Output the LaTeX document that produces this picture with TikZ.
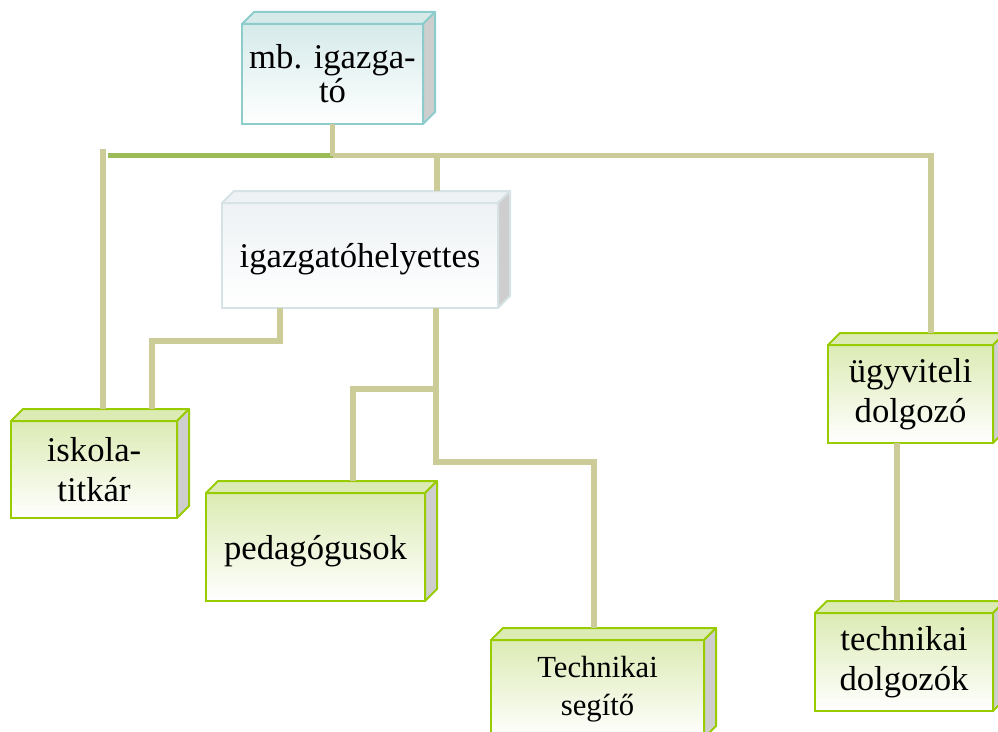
\documentclass[tikz,border=0pt]{standalone}
\usepackage{fontspec}
\setmainfont{Liberation Serif}
\usetikzlibrary{calc}
\definecolor{linkkhaki}{RGB}{204,204,153}
\definecolor{busgreen}{RGB}{155,187,89}
\definecolor{limeedge}{RGB}{153,204,0}
\definecolor{limetop}{RGB}{220,235,180}
\definecolor{tealedge}{RGB}{140,204,204}
\definecolor{tealtop}{RGB}{214,234,234}
\definecolor{mistedge}{RGB}{214,226,230}
\definecolor{misttop}{RGB}{238,242,244}
\definecolor{sideface}{RGB}{206,206,206}
\tikzset{
  unit/.style={line width=1.5pt, outer sep=0pt, inner sep=0pt, align=center,
    font=\fontsize{26}{30}\selectfont, execute at begin node={\rule{0pt}{24pt}}},
  limebox/.style={unit, draw=limeedge, top color=limetop, bottom color=white},
  tealbox/.style={unit, draw=tealedge, top color=tealtop, bottom color=white},
  mistbox/.style={unit, draw=mistedge, top color=misttop, bottom color=white},
  link/.style={draw=linkkhaki, line width=4pt, line join=miter}
}
\newcommand\cubeface[3]{%
  \filldraw[draw=#2, fill=#3, line width=1.5pt, line join=round]
    (#1.north west) -- ++(12,-12) -- ($(#1.north east)+(12,-12)$) -- (#1.north east) -- cycle;
  \filldraw[draw=#2, fill=sideface, line width=1.5pt, line join=round]
    (#1.north east) -- ++(12,-12) -- ($(#1.south east)+(12,-12)$) -- (#1.south east) -- cycle;
  \coordinate (#1-back) at ($(#1.north)+(6,-12)$);
}
\begin{document}
\begin{tikzpicture}[x=0.75pt,y=-0.75pt]
\useasboundingbox (0,0) rectangle (998,731);
\clip (0,0) rectangle (998,731);
\node[tealbox, minimum width=135.75pt, minimum height=75pt, font=\fontsize{26}{25.5}\selectfont, execute at begin node={\rule{0pt}{27pt}}] (mb) at (332.5,74) {mb. igazga-\\tó};
\cubeface{mb}{tealedge}{tealtop}
\node[mistbox, minimum width=207pt, minimum height=78.75pt] (hely) at (360,255.5) {igazgatóhelyettes};
\cubeface{hely}{mistedge}{misttop}
\node[limebox, minimum width=124.5pt, minimum height=72.75pt] (iskola) at (94,469.5) {iskola-\\titkár};
\cubeface{iskola}{limeedge}{limetop}
\node[limebox, minimum width=164.25pt, minimum height=81pt] (ped) at (315.5,547) {pedagógusok};
\cubeface{ped}{limeedge}{limetop}
\node[limebox, minimum width=159.75pt, minimum height=73.5pt, font=\fontsize{23}{28.5}\selectfont] (techseg) at (597.5,689) {Technikai\\segítő};
\cubeface{techseg}{limeedge}{limetop}
\node[limebox, minimum width=123.75pt, minimum height=73.5pt] (ugyv) at (910.5,394) {ügyviteli\\dolgozó};
\cubeface{ugyv}{limeedge}{limetop}
\node[limebox, minimum width=133.5pt, minimum height=73.5pt] (techdolg) at (904,662) {technikai\\dolgozók};
\cubeface{techdolg}{limeedge}{limetop}
\coordinate (busL) at (108,155.5);
\coordinate (busR) at (931,155.5);
\coordinate (leftTop) at (103,149);
\coordinate (helyTop) at (437,155.5);
\coordinate (kA) at (152,341);
\coordinate (kB) at (280,341);
\coordinate (kC) at (436,462);
\coordinate (kD) at (594,462);
\coordinate (kE) at (436,389);
\coordinate (kF) at (353,389);
\coordinate (kG) at (897,520);
\draw[link, draw=busgreen] (busL) -- (mb.south |- busL);
\draw[link] (mb.south |- busL) -- (busR) -- (busR |- ugyv-back);
\draw[link] (mb.south) -- (mb.south |- busL);
\draw[link] (leftTop) -- (leftTop |- iskola-back);
\draw[link] (helyTop) -- (helyTop |- hely-back);
\draw[link] (kB |- hely.south) -- (kB) -- (kA) -- (kA |- iskola-back);
\draw[link] (kC |- hely.south) -- (kC) -- (kD) -- (kD |- techseg-back);
\draw[link] (kE) -- (kF) -- (kF |- ped-back);
\draw[link] (kG |- ugyv.south) -- (kG |- techdolg-back);
\end{tikzpicture}
\end{document}
